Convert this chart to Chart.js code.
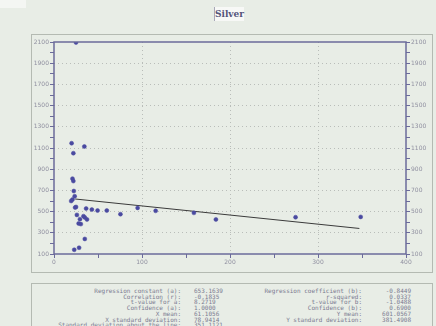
<!DOCTYPE html>
<html>
<head>
<meta charset="utf-8">
<script src="https://cdn.jsdelivr.net/npm/chart.js@4"></script>
<style>
  html, body { margin: 0; padding: 0; }
  body { width: 436px; height: 326px; background: #e8ede6; position: relative; overflow: hidden; font-family: "DejaVu Sans", sans-serif; }
  #corner { position: absolute; left: 0; top: 0; width: 26px; height: 8px; background: #f4f6f3; }
  #title { position: absolute; left: 214px; top: 7px; width: 29px; height: 14px; background: #f7f8f6; border-left: 1px solid #a8a8b8;
           font: bold 9px "DejaVu Serif", serif; color: #55557a; text-align: center; line-height: 14px; }
  #panel { position: absolute; left: 31px; top: 34px; width: 400px; height: 237px; border: 1px solid #b4bab2; }
  #wrap { position: absolute; left: 31px; top: 34px; width: 401px; height: 238px; }
  #stats { position: absolute; left: 31px; top: 283px; width: 400px; height: 60px; border: 1px solid #b4bab2;
           font: 6px "DejaVu Sans Mono", monospace; color: #7a7a90; }
  #stats div { position: absolute; white-space: pre; line-height: 5.7px; }
</style>
</head>
<body>
<div id="corner"></div>
<div id="title">Silver</div>
<div id="panel"></div>
<div id="wrap"><canvas id="myChart" width="401" height="238"></canvas></div>
<div id="stats">
  <div id="l1" style="right:251px; top:4px; text-align:right"></div>
  <div id="l2" style="left:162px; top:4px"></div>
  <div id="l3" style="right:70px; top:4px; text-align:right"></div>
  <div id="l4" style="right:21px; top:4px; text-align:right"></div>
</div>
<script>
// scatter points (x, y)
const xValues = [25, 20, 34.5, 22, 21, 22, 22.5, 23.5, 21, 19.5, 24, 25, 26, 29.5, 28, 30.5,
  33.5, 35, 37.5, 36.5, 43, 49.5, 60, 75.5, 95, 115.5, 159, 184, 274.5, 348.5, 35, 23, 28.5];
const yValues = [2095, 1145, 1114, 1051, 811, 788, 694, 645, 614, 600, 538, 544, 469, 429, 388, 382,
  457, 445, 426, 529, 519, 510, 510, 476, 535, 507, 488, 426, 447, 450, 242, 140, 159];

// fitted line ends
const lineX = [24, 347];
const lineY = [619, 341];

const statLabelsLeft = ['Regression constant (a):', 'Correlation (r):', 't-value for a:', 'Confidence (a):',
  'X mean:', 'X standard deviation:', 'Standard deviation about the line:'];
const statValuesLeft = ['653.1639', '-0.1835', '8.2719', '1.0000', '61.1056', '78.9414', '351.1121'];
const statLabelsRight = ['Regression coefficient (b):', 'r-squared:', 't-value for b:', 'Confidence (b):',
  'Y mean:', 'Y standard deviation:'];
const statValuesRight = ['-0.8449', '0.0337', '-1.0488', '0.6900', '601.0567', '381.4908'];

document.getElementById('l1').textContent = statLabelsLeft.join('\n');
document.getElementById('l2').textContent = statValuesLeft.join('\n');
document.getElementById('l3').textContent = statLabelsRight.join('\n');
document.getElementById('l4').textContent = statValuesRight.join('\n');

let points = [];
for (let i = 0; i < xValues.length; i++) {
  points.push({x: xValues[i], y: yValues[i]});
}
let linePts = [];
for (let i = 0; i < lineX.length; i++) {
  linePts.push({x: lineX[i], y: lineY[i]});
}

const axisColor = '#6b6b9b';
const tickFont = {family: 'DejaVu Sans', size: 6};

const frame = {
  id: 'frame',
  afterDatasetsDraw(chart) {
    const a = chart.chartArea;
    const c = chart.ctx;
    c.save();
    c.strokeStyle = axisColor;
    c.lineWidth = 1.5;
    c.strokeRect(a.left, a.top, a.right - a.left, a.bottom - a.top);
    c.restore();
  }
};

function yAxis(pos, w) {
  return {
    type: 'linear',
    position: pos,
    min: 100,
    max: 2100,
    afterFit: s => { s.width = w; },
    ticks: {
      stepSize: 100,
      font: tickFont,
      color: '#9090a0',
      padding: 1,
      callback: v => ((v - 100) % 200 === 0 ? v : '')
    },
    grid: {
      drawOnChartArea: pos === 'left',
      color: c => {
        const v = c.tick.value;
        return (v > 100 && v < 2100 && (v - 100) % 200 === 0) ? '#b9bdb9' : 'rgba(0,0,0,0)';
      },
      tickColor: axisColor,
      tickLength: 4
    },
    border: {display: false, dash: [1, 3]}
  };
}

new Chart(document.getElementById('myChart'), {
  type: 'scatter',
  data: {
    datasets: [{
      label: 'points',
      data: points,
      backgroundColor: '#4a4aa0',
      borderColor: '#4a4aa0',
      borderWidth: 0.5,
      pointRadius: 2,
      yAxisID: 'y'
    }, {
      label: 'fit',
      type: 'line',
      data: linePts,
      borderColor: '#3a3a3a',
      borderWidth: 1,
      pointRadius: 0,
      fill: false,
      yAxisID: 'y'
    }]
  },
  plugins: [frame],
  options: {
    responsive: false,
    animation: false,
    layout: {padding: {top: 8}},
    plugins: {legend: {display: false}, tooltip: {enabled: false}},
    scales: {
      x: {
        type: 'linear',
        min: 0,
        max: 400,
        afterFit: s => { s.height = 18; },
        ticks: {
          stepSize: 50,
          font: tickFont,
          color: '#9090a0',
          padding: 1,
          maxRotation: 0,
          callback: v => (v % 100 === 0 ? v : '')
        },
        grid: {
          color: c => {
            const v = c.tick.value;
            return (v > 0 && v < 400 && v % 100 === 0) ? '#b9bdb9' : 'rgba(0,0,0,0)';
          },
          tickColor: axisColor,
          tickLength: 4
        },
        border: {display: false, dash: [1, 3]}
      },
      y: yAxis('left', 23),
      y2: yAxis('right', 26)
    }
  }
});
</script>
</body>
</html>
